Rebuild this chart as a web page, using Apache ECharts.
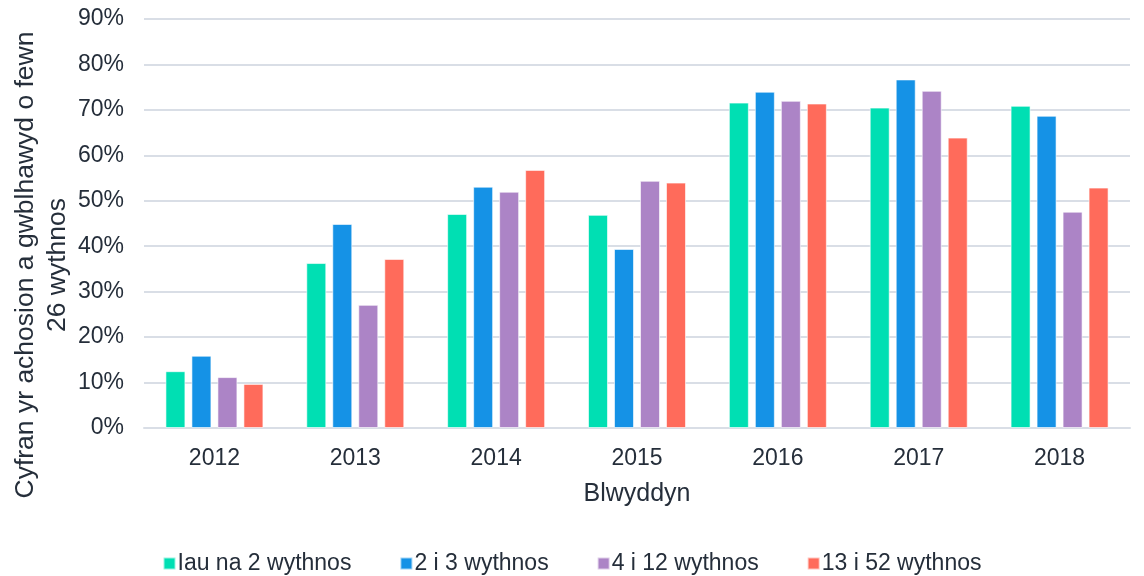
<!DOCTYPE html>
<html>
<head>
<meta charset="utf-8">
<script src="https://cdn.jsdelivr.net/npm/echarts@6/dist/echarts.min.js"></script>
<style>
  html, body { margin: 0; padding: 0; background: #fff; }
  #chart { width: 1144px; height: 576px; }
</style>
</head>
<body>
<div id="chart"></div>
<script>
  // data
  const years = ['2012', '2013', '2014', '2015', '2016', '2017', '2018']
  const seriesNames = ['Iau na 2 wythnos', '2 i 3 wythnos', '4 i 12 wythnos', '13 i 52 wythnos']
  const under2 = [12.5, 36.3, 47.1, 46.9, 71.6, 70.5, 70.9]
  const from2to3 = [15.9, 44.9, 53.1, 39.4, 74.0, 76.7, 68.7]
  const from4to12 = [11.2, 27.1, 52.0, 54.4, 72.0, 74.2, 47.6]
  const from13to52 = [9.7, 37.2, 56.8, 54.0, 71.4, 63.9, 52.9]

  const colors = ['#00dfb3', '#1592e6', '#ac84c6', '#ff6b5b']
  const textColor = '#252e3a'
  const font = 'Liberation Sans, Arial, sans-serif'

  const chart = echarts.init(document.getElementById('chart'))
  const values = [under2, from2to3, from4to12, from13to52]

  chart.setOption({
    animation: false,
    color: colors,
    textStyle: { fontFamily: font },
    grid: { left: 144, right: 14, top: 19, bottom: 148 },
    legend: {
      bottom: -4,
      left: 'center',
      itemWidth: 12,
      itemHeight: 12,
      itemGap: 48,
      icon: 'rect',
      textStyle: { fontSize: 23, color: textColor, fontFamily: font, padding: [0, 0, 0, -3] },
      data: seriesNames
    },
    xAxis: {
      type: 'category',
      data: years,
      name: 'Blwyddyn',
      nameLocation: 'middle',
      nameGap: 54,
      nameTextStyle: { fontSize: 25, color: textColor, fontFamily: font },
      axisLine: { lineStyle: { color: '#d9dee6', width: 2 } },
      axisTick: { show: false },
      axisLabel: { fontSize: 23, color: textColor, margin: 19 }
    },
    yAxis: {
      type: 'value',
      min: 0,
      max: 90,
      interval: 10,
      axisLine: { show: false },
      axisTick: { show: false },
      axisLabel: { fontSize: 23, color: textColor, margin: 20, formatter: '{value}%' },
      splitLine: { lineStyle: { color: '#d9dee6', width: 2 } }
    },
    graphic: [{
      type: 'text',
      x: 42,
      y: 265,
      rotation: Math.PI / 2,
      style: {
        text: 'Cyfran yr achosion a gwblhawyd o fewn\n26 wythnos',
        fontSize: 26.5,
        fontFamily: font,
        fill: textColor,
        align: 'center',
        verticalAlign: 'middle',
        lineHeight: 32
      }
    }],
    series: seriesNames.map((name, i) => ({
      name: name,
      type: 'bar',
      data: values[i],
      barWidth: 20,
      barGap: '30%',
      itemStyle: { borderColor: 'rgba(255,255,255,0.6)', borderWidth: 1 }
    }))
  })
</script>
</body>
</html>
